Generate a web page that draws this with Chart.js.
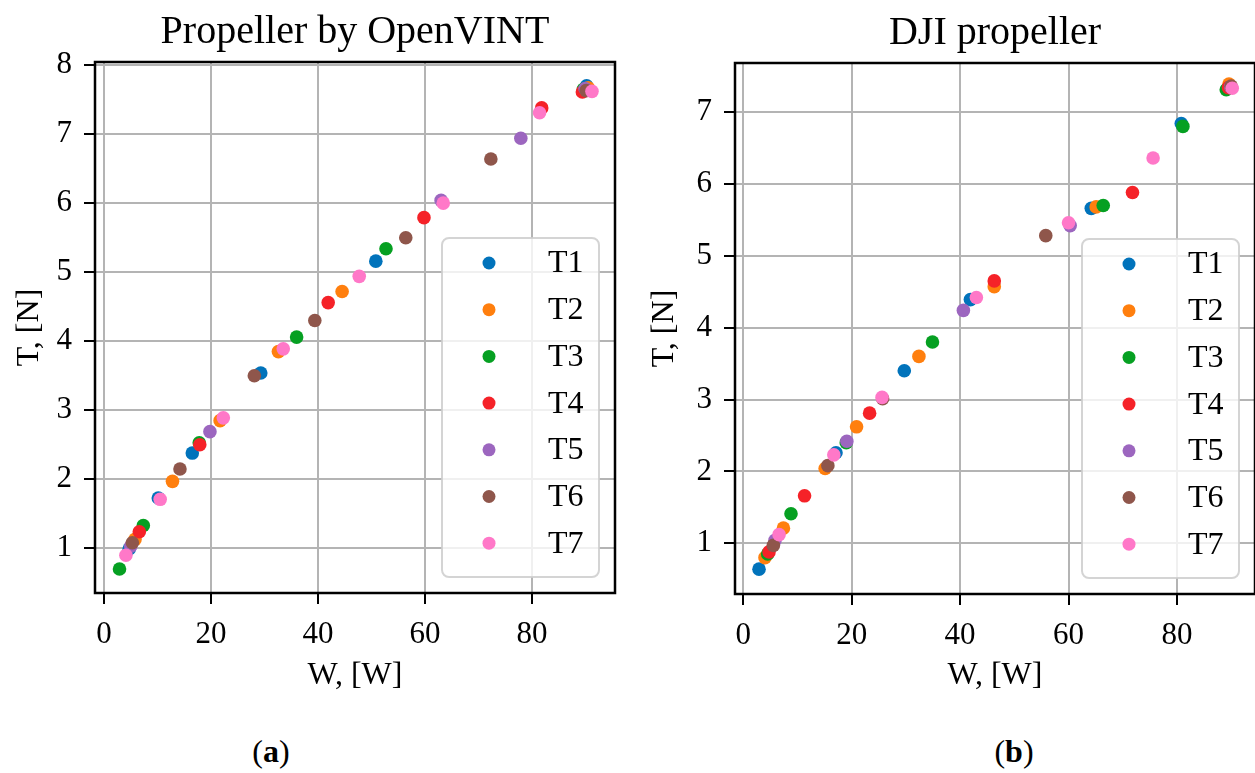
<!DOCTYPE html>
<html>
<head>
<meta charset="utf-8">
<script src="https://cdn.jsdelivr.net/npm/chart.js@4.4.1/dist/chart.umd.min.js"></script>
<style>
  html, body { margin: 0; padding: 0; background: #fff; overflow: hidden; width: 1255px; height: 773px; }
  .panel { position: absolute; top: 0; }
  .cap { position: absolute; top: 732px; font: 32px "Liberation Serif", "Times New Roman", serif; line-height: 38px; color: #000; transform: translateX(-50%); }
</style>
</head>
<body>
<div class="panel" style="left:0"><canvas id="chartA" width="625" height="720"></canvas></div>
<div class="panel" style="left:625px"><canvas id="chartB" width="640" height="720"></canvas></div>
<div class="cap" style="left:271px">(<b>a</b>)</div>
<div class="cap" style="left:1014px">(<b>b</b>)</div>
<script>
const seriesNames = ["T1", "T2", "T3", "T4", "T5", "T6", "T7"];
const colors = ["#0173bb", "#ff7f0e", "#06a022", "#f52228", "#9c66bf", "#8f564b", "#ff78c8"];
const xTicks = [0, 20, 40, 60, 80];
const yTicksA = [1, 2, 3, 4, 5, 6, 7, 8];
const yTicksB = [1, 2, 3, 4, 5, 6, 7];

// Propeller by OpenVINT, [W, T] pairs
const ovT1 = [[4.7, 0.99], [10.15, 1.73], [16.5, 2.38], [29.3, 3.54], [50.8, 5.16], [90.2, 7.70]];
const ovT2 = [[5.8, 1.13], [12.8, 1.97], [21.7, 2.85], [32.6, 3.85], [44.5, 4.72], [90.5, 7.67]];
const ovT3 = [[2.9, 0.70], [7.35, 1.33], [17.8, 2.53], [36.0, 4.06], [52.7, 5.34], [89.6, 7.65]];
const ovT4 = [[6.6, 1.24], [17.9, 2.50], [41.9, 4.56], [59.8, 5.79], [81.8, 7.38], [89.4, 7.61]];
const ovT5 = [[5.0, 1.03], [19.8, 2.69], [63.0, 6.04], [77.9, 6.94], [89.9, 7.66]];
const ovT6 = [[5.3, 1.08], [14.2, 2.15], [28.1, 3.50], [39.4, 4.30], [56.4, 5.50], [72.3, 6.64], [90.1, 7.63]];
const ovT7 = [[4.1, 0.90], [10.5, 1.71], [22.3, 2.89], [33.5, 3.89], [47.7, 4.94], [63.4, 6.00], [81.4, 7.31], [91.2, 7.62]];

// DJI propeller, [W, T] pairs
const djiT1 = [[2.9, 0.64], [17.1, 2.26], [29.7, 3.40], [41.9, 4.39], [64.2, 5.66], [80.8, 6.84], [89.8, 7.35]];
const djiT2 = [[4.0, 0.80], [7.4, 1.21], [15.1, 2.04], [20.9, 2.62], [32.4, 3.60], [46.3, 4.57], [65.1, 5.68], [89.6, 7.39]];
const djiT3 = [[4.5, 0.85], [8.8, 1.41], [19.0, 2.40], [34.9, 3.80], [66.4, 5.70], [81.1, 6.80], [89.1, 7.31]];
const djiT4 = [[4.75, 0.88], [11.3, 1.66], [23.3, 2.81], [46.3, 4.65], [71.8, 5.88], [89.5, 7.34]];
const djiT5 = [[5.85, 1.04], [19.1, 2.42], [40.6, 4.24], [60.3, 5.42], [89.9, 7.35]];
const djiT6 = [[5.55, 0.97], [15.6, 2.08], [25.7, 3.01], [55.8, 5.28], [90.0, 7.36]];
const djiT7 = [[6.6, 1.12], [16.7, 2.23], [25.6, 3.03], [43.0, 4.42], [60.0, 5.46], [75.6, 6.36], [90.2, 7.33]];

const FONT = '"Liberation Serif", "Times New Roman", serif';

// legend inside plot area + full box frame (matplotlib style)
const boxLegend = {
  id: "boxLegend",
  afterDatasetsDraw(chart) {
    const { ctx, chartArea } = chart;
    const w = 157, h = 339;
    const x = chartArea.right - 16 - w, y = chartArea.bottom - 16 - h;
    ctx.save();
    ctx.beginPath();
    ctx.roundRect(x, y, w, h, 7);
    ctx.fillStyle = "rgba(255,255,255,0.8)";
    ctx.fill();
    ctx.lineWidth = 2;
    ctx.strokeStyle = "rgba(205,205,205,0.85)";
    ctx.stroke();
    ctx.font = "32px " + FONT;
    ctx.textBaseline = "middle";
    chart.data.datasets.forEach((ds, i) => {
      const cy = y + 25 + i * 46.7;
      ctx.beginPath();
      ctx.arc(x + 47, cy, 6.5, 0, Math.PI * 2);
      ctx.fillStyle = ds.backgroundColor;
      ctx.fill();
      ctx.fillStyle = "#000";
      ctx.fillText(ds.label, x + 106, cy + 1);
    });
    ctx.restore();
  },
  afterDraw(chart) {
    const { ctx, chartArea } = chart;
    ctx.save();
    ctx.lineWidth = 2.5;
    ctx.strokeStyle = "#000";
    ctx.strokeRect(chartArea.left, chartArea.top, chartArea.right - chartArea.left, chartArea.bottom - chartArea.top);
    ctx.restore();
  }
};

function makeChart(id, title, series, cfg) {
  new Chart(document.getElementById(id), {
    type: "scatter",
    data: {
      datasets: series.map((pts, i) => ({
        label: seriesNames[i],
        data: pts.map(p => ({ x: p[0], y: p[1] })),
        backgroundColor: colors[i],
        borderWidth: 0,
        pointRadius: 6.8,
        pointHoverRadius: 6.8,
        order: seriesNames.length - i
      }))
    },
    options: {
      responsive: false,
      animation: false,
      devicePixelRatio: 1,
      layout: { padding: { left: 0, right: cfg.padRight, top: 0, bottom: 0 } },
      plugins: {
        legend: { display: false },
        tooltip: { enabled: false },
        title: {
          display: true,
          text: title,
          fullSize: false,
          color: "#000",
          font: { family: FONT, size: 40, weight: "normal", lineHeight: 1.2 },
          padding: { top: cfg.titleTop, bottom: 6 }
        }
      },
      scales: {
        x: {
          type: "linear",
          min: cfg.xMin,
          max: cfg.xMax,
          afterBuildTicks: s => { s.ticks = xTicks.map(v => ({ value: v })); },
          afterFit: s => { s.height = cfg.xHeight; },
          border: { display: false },
          grid: { color: "#b4b4b4", lineWidth: 2, tickColor: "#000", tickWidth: 2, tickLength: 11 },
          ticks: { color: "#000", padding: 12, font: { family: FONT, size: 31 }, maxRotation: 0 },
          title: {
            display: true, text: "W, [W]", color: "#000",
            font: { family: FONT, size: 32, lineHeight: 1.2 },
            padding: { top: 0, bottom: 25 }
          }
        },
        y: {
          type: "linear",
          min: cfg.yMin,
          max: cfg.yMax,
          afterBuildTicks: s => { s.ticks = cfg.yTicks.map(v => ({ value: v })); },
          afterFit: s => { s.width = cfg.yWidth; },
          border: { display: false },
          grid: { color: "#b4b4b4", lineWidth: 2, tickColor: "#000", tickWidth: 2, tickLength: 11 },
          ticks: { color: "#000", padding: 12, font: { family: FONT, size: 31 } },
          title: {
            display: true, text: "T, [N]", color: "#000",
            font: { family: FONT, size: 32, lineHeight: 1.2 },
            padding: { top: cfg.yTitlePad, bottom: 0 }
          }
        }
      }
    },
    plugins: [boxLegend]
  });
}

makeChart("chartA", "Propeller by OpenVINT", [ovT1, ovT2, ovT3, ovT4, ovT5, ovT6, ovT7], {
  xMin: -1.68, xMax: 95.5, yMin: 0.353, yMax: 8.045, yTicks: yTicksA,
  yWidth: 95, xHeight: 127, padRight: 10, titleTop: 8, yTitlePad: 10
});
makeChart("chartB", "DJI propeller", [djiT1, djiT2, djiT3, djiT4, djiT5, djiT6, djiT7], {
  xMin: -1.53, xMax: 94.4, yMin: 0.294, yMax: 7.682, yTicks: yTicksB,
  yWidth: 110, xHeight: 126, padRight: 10, titleTop: 9, yTitlePad: 20
});
</script>
</body>
</html>
